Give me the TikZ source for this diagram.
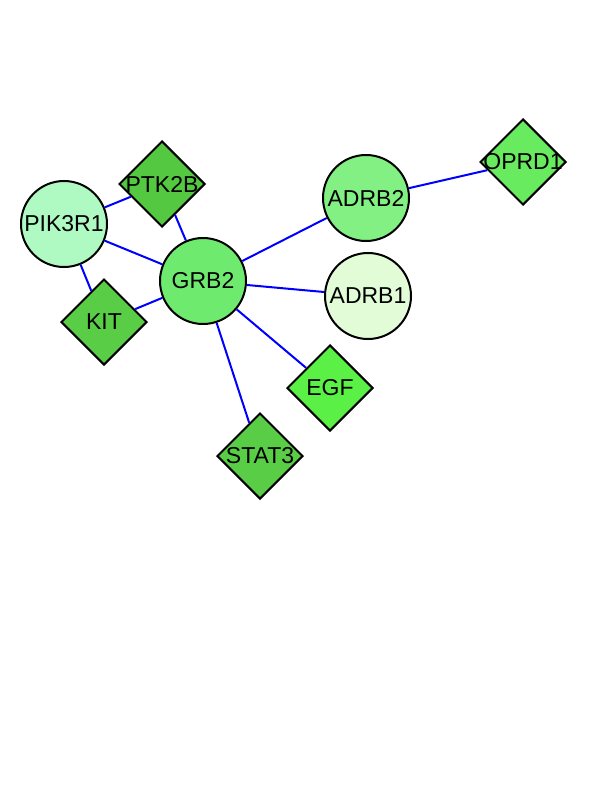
\documentclass[tikz,border=0pt]{standalone}
\usepackage{fontspec}
\setmainfont{Liberation Sans}
\usetikzlibrary{shapes.geometric}
\definecolor{cPIK}{RGB}{175,250,195}
\definecolor{cPTK}{RGB}{85,200,65}
\definecolor{cKIT}{RGB}{90,205,70}
\definecolor{cGRB}{RGB}{110,235,110}
\definecolor{cADRBtwo}{RGB}{130,240,130}
\definecolor{cADRBone}{RGB}{225,252,215}
\definecolor{cEGF}{RGB}{90,240,70}
\definecolor{cSTAT}{RGB}{90,205,70}
\definecolor{cOPRD}{RGB}{105,235,95}
\tikzset{
  gene/.style={draw=black, line width=2pt, inner sep=0pt, font=\fontsize{23}{23}\selectfont},
  circ/.style={gene, circle, minimum size=86pt},
  dia/.style={gene, diamond, minimum width=86pt, minimum height=86pt},
  link/.style={draw=blue, line width=2pt}
}
\newcommand{\zw}[1]{\makebox[0pt]{#1}}
\begin{document}
\begin{tikzpicture}[x=1pt,y=-1pt]
\useasboundingbox (0,0) rectangle (612,792);
\node[circ, fill=cPIK] (PIK3R1) at (64,224) {\zw{PIK3R1}};
\node[dia, fill=cPTK] (PTK2B) at (162,184) {\zw{PTK2B}};
\node[dia, fill=cKIT] (KIT) at (104,322) {\zw{KIT}};
\node[circ, fill=cGRB] (GRB2) at (203,281) {\zw{GRB2}};
\node[circ, fill=cADRBtwo] (ADRB2) at (366,198) {\zw{ADRB2}};
\node[circ, fill=cADRBone] (ADRB1) at (368,296) {\zw{ADRB1}};
\node[dia, fill=cEGF] (EGF) at (330,388) {\zw{EGF}};
\node[dia, fill=cSTAT] (STAT3) at (260,456) {\zw{STAT3}};
\node[dia, fill=cOPRD] (OPRD1) at (523,162) {\zw{OPRD1}};
\draw[link] (PIK3R1) -- (PTK2B);
\draw[link] (PIK3R1) -- (GRB2);
\draw[link] (PIK3R1) -- (KIT);
\draw[link] (PTK2B) -- (GRB2);
\draw[link] (KIT) -- (GRB2);
\draw[link] (GRB2) -- (ADRB2);
\draw[link] (GRB2) -- (ADRB1);
\draw[link] (GRB2) -- (EGF);
\draw[link] (GRB2) -- (STAT3);
\draw[link] (ADRB2) -- (OPRD1);
\end{tikzpicture}
\end{document}
